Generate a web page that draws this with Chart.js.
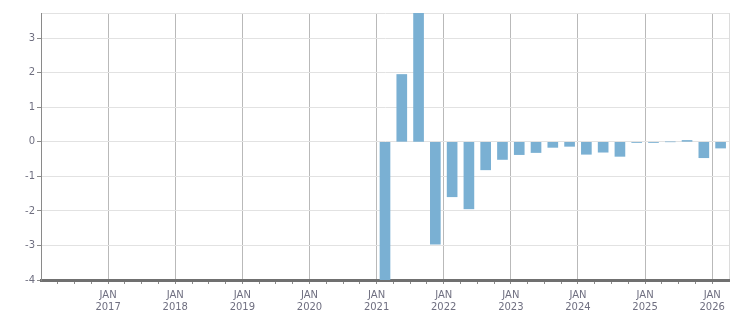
<!DOCTYPE html>
<html>
<head>
<meta charset="utf-8">
<script src="https://cdn.jsdelivr.net/npm/chart.js@4/dist/chart.umd.min.js"></script>
<style>
html,body{margin:0;padding:0;background:#fff;}
#wrap{width:751px;height:313px;position:relative;}
</style>
</head>
<body>
<div id="wrap"><canvas id="c" width="751" height="313"></canvas></div>
<script>
// Data: quarterly values
const quarters = ['2021-Q1','2021-Q2','2021-Q3','2021-Q4','2022-Q1','2022-Q2','2022-Q3','2022-Q4',
  '2023-Q1','2023-Q2','2023-Q3','2023-Q4','2024-Q1','2024-Q2','2024-Q3','2024-Q4',
  '2025-Q1','2025-Q2','2025-Q3','2025-Q4','2026-Q1'];
const values = [-4.3, 1.95, 3.9, -2.96, -1.59, -1.94, -0.81, -0.51,
  -0.37, -0.31, -0.16, -0.13, -0.36, -0.30, -0.42, -0.02,
  -0.02, 0, 0.04, -0.46, -0.18];
const yearLabels = [2017,2018,2019,2020,2021,2022,2023,2024,2025,2026];
const yTickValues = [-4,-3,-2,-1,0,1,2,3];
const xMin = 2016, xMax = 2026.25;
const yMin = -4, yMax = 3.73;

const points = quarters.map((q,i)=>{
  const yr = parseInt(q.slice(0,4)); const qn = parseInt(q.slice(6));
  return {x: yr + (qn-0.5)/4, y: values[i]};
});

const labelColor = '#6f6f80';
const font = {family:'"DejaVu Sans", Verdana, sans-serif', size:10};

new Chart(document.getElementById('c'), {
  type:'bar',
  data:{datasets:[{data:points, backgroundColor:'#7ab0d3', borderWidth:0, barThickness:10}]},
  options:{
    responsive:false, animation:false,
    layout:{padding:{left:0, top:13, right:22, bottom:0}},
    plugins:{legend:{display:false}, tooltip:{enabled:false}},
    scales:{
      x:{
        type:'linear', min:xMin, max:xMax, offset:false,
        afterBuildTicks:(s)=>{
          const t=[]; for(let v=xMin; v<=xMax+1e-9; v+=0.25) t.push({value:Math.round(v*100)/100});
          s.ticks=t;
        },
        afterFit:(s)=>{ s.height = 33; },
        ticks:{
          autoSkip:false, maxRotation:0, minRotation:0, color:labelColor, font:font, padding:5,
          callback:(v)=> (Number.isInteger(v) && yearLabels.includes(v)) ? ['JAN', String(v)] : ''
        },
        grid:{
          offset:false, drawOnChartArea:true, tickLength:4, lineWidth:1,
          color:(ctx)=>{ const v=ctx.tick&&ctx.tick.value; if(v===undefined) return 'rgba(0,0,0,0)';
            if(Math.abs(v-xMax)<1e-6) return '#dcdcdc';
            if(Number.isInteger(v) && yearLabels.includes(v)) return '#b9b9b9';
            return 'rgba(0,0,0,0)'; },
          tickColor:(ctx)=>{ const v=ctx.tick&&ctx.tick.value; if(v===undefined) return 'rgba(0,0,0,0)'; if(Math.abs(v-xMax)<1e-6||v===xMin) return 'rgba(0,0,0,0)'; return '#8a8a8a'; }
        },
        border:{display:true, color:'#707070', width:3}
      },
      y:{
        min:yMin, max:yMax,
        afterBuildTicks:(s)=>{ s.ticks = yTickValues.map(v=>({value:v})).concat([{value:yMax}]); },
        afterFit:(s)=>{ s.width = 41; },
        ticks:{ color:labelColor, font:font, padding:2,
          callback:(v)=> yTickValues.includes(v) ? String(v) : '' },
        grid:{ color:'#e2e2e2', tickLength:4,
          tickColor:(ctx)=>{ const v=ctx.tick&&ctx.tick.value; return (v!==undefined && yTickValues.includes(v)) ? '#8a8a8a' : 'rgba(0,0,0,0)'; } },
        border:{display:true, color:'#8a8a8a', width:1}
      }
    }
  }
});
</script>
</body>
</html>
